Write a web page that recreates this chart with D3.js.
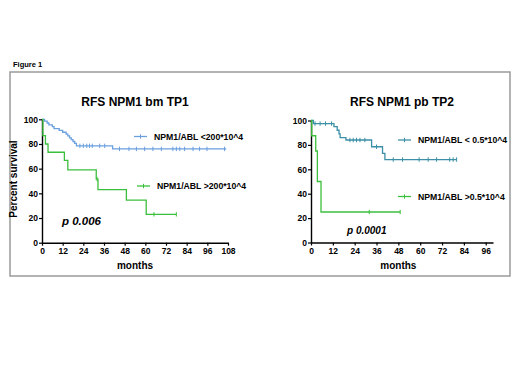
<!DOCTYPE html>
<html>
<head>
<meta charset="utf-8">
<script src="https://cdn.jsdelivr.net/npm/d3@7"></script>
<style>
  body { margin: 0; background: #fff; }
  text { font-family: "Liberation Sans", Arial, sans-serif; }
</style>
</head>
<body>
<div id="chart"></div>
<script>
// step points of each Kaplan-Meier curve (months, percent survival)
const bmLowTimes = [0, 1.5, 3, 4, 6, 7, 10, 12, 14, 15, 16, 17, 18, 19, 20, 41, 107];
const bmLowSurv = [100, 98.5, 97, 95.5, 94, 92.5, 91, 89.5, 88, 86.5, 85, 83.5, 82, 80.5, 78.5, 76, 76];
const bmLowCensor = [22, 24, 26, 27.6, 29.2, 33.5, 36.4, 45, 50.5, 54.8, 59.6, 64.4, 69.3, 76, 78, 80, 82.8, 87.7, 91.5, 95.8, 106];

const bmHighTimes = [0, 0.5, 2, 3.5, 13, 15, 31.5, 32.5, 49, 60.5, 78];
const bmHighSurv = [100, 86.7, 80, 73.3, 66.7, 59, 51.5, 43, 34.5, 23, 23];
const bmHighCensor = [32, 65, 78];

const pbLowTimes = [0, 1.3, 12.6, 14.4, 15.4, 16, 19.2, 33.3, 39.3, 40.6, 80];
const pbLowSurv = [100, 97.5, 95, 92, 89, 86, 84, 78.5, 73, 68, 68];
const pbLowCensor = [2.2, 5, 8, 11.3, 21.4, 23.2, 25, 26.9, 29.6, 36, 45.2, 50.3, 59.4, 64.4, 69, 76.2, 78.1, 80];

const pbHighTimes = [0, 0.4, 2.6, 3.5, 5.5, 49];
const pbHighSurv = [100, 87.5, 75, 50, 25, 25];
const pbHighCensor = [32, 49];

const yTicks = [0, 20, 40, 60, 80, 100];
const bmXTicks = [0, 12, 24, 36, 48, 60, 72, 84, 96, 108];
const pbXTicks = [0, 12, 24, 36, 48, 60, 72, 84, 96];

const blue = '#6a9fe0';
const teal = '#3b8fa6';
const green = '#3cbf3c';

const svg = d3.select('#chart')
    .append('svg')
    .attr('width', 520)
    .attr('height', 390);

// figure label and frame
svg.append('text')
    .attr('x', 13)
    .attr('y', 67)
    .style('font-size', '7.5px')
    .style('font-weight', 'bold')
    .text('Figure 1');

svg.append('rect')
    .attr('x', 10)
    .attr('y', 72)
    .attr('width', 500)
    .attr('height', 204)
    .attr('fill', 'none')
    .attr('stroke', '#9a9a9a')
    .attr('stroke-width', 1.5);

function survAt(times, surv, t) {
    let s = surv[0];
    for (let i = 0; i < times.length; i++) {
        if (times[i] <= t) s = surv[i];
    }
    return s;
}

function DrawPanel(opt) {
    const x = d3.scaleLinear().domain(opt.xDomain).range(opt.xRange);
    const y = d3.scaleLinear().domain([0, 100]).range(opt.yRange);
    const g = svg.append('g');

    // axes
    const xAxis = g.append('g')
        .attr('transform', 'translate(0,' + opt.yRange[0] + ')')
        .call(d3.axisBottom(x).tickValues(opt.xTicks).tickSize(3).tickSizeOuter(0).tickPadding(2));
    const yAxis = g.append('g')
        .attr('transform', 'translate(' + opt.xRange[0] + ',0)')
        .call(d3.axisLeft(y).tickValues(yTicks).tickSize(3).tickSizeOuter(0).tickPadding(1));
    [xAxis, yAxis].forEach(a => {
        a.select('.domain').attr('stroke', '#000').attr('stroke-width', 1.4);
        a.selectAll('.tick line').attr('stroke', '#000').attr('stroke-width', 1.2);
        a.selectAll('.tick text')
            .attr('fill', '#000')
            .style('font-size', '8.5px')
            .style('font-weight', 'bold')
            .style('font-family', '"Liberation Sans", Arial, sans-serif');
    });

    // title
    g.append('text')
        .attr('x', opt.titleX)
        .attr('y', 106)
        .attr('text-anchor', 'middle')
        .style('font-size', '12px')
        .style('font-weight', 'bold')
        .text(opt.title);

    // x axis label
    g.append('text')
        .attr('x', (opt.xRange[0] + x(opt.xTicks[opt.xTicks.length - 1])) / 2)
        .attr('y', 268.5)
        .attr('text-anchor', 'middle')
        .style('font-size', '10px')
        .style('font-weight', 'bold')
        .text('months');

    const line = d3.line()
        .x(d => x(d[0]))
        .y(d => y(d[1]))
        .curve(d3.curveStepAfter);

    opt.curves.forEach(c => {
        const pts = c.times.map((t, i) => [t, c.surv[i]]);
        g.append('path')
            .attr('d', line(pts))
            .attr('fill', 'none')
            .attr('stroke', c.color)
            .attr('stroke-width', 1.3);

        g.selectAll(null)
            .data(c.censor)
            .join('line')
            .attr('x1', d => x(d))
            .attr('x2', d => x(d))
            .attr('y1', d => y(survAt(c.times, c.surv, d)) - 2.2)
            .attr('y2', d => y(survAt(c.times, c.surv, d)) + 2.2)
            .attr('stroke', c.color)
            .attr('stroke-width', 1);

        // legend
        g.append('line')
            .attr('x1', c.legendX)
            .attr('x2', c.legendX + 13)
            .attr('y1', c.legendY)
            .attr('y2', c.legendY)
            .attr('stroke', c.color)
            .attr('stroke-width', 1.3);
        g.append('line')
            .attr('x1', c.legendX + 6.5)
            .attr('x2', c.legendX + 6.5)
            .attr('y1', c.legendY - 2.2)
            .attr('y2', c.legendY + 2.2)
            .attr('stroke', c.color)
            .attr('stroke-width', 1);
        g.append('text')
            .attr('x', c.legendX + 20)
            .attr('y', c.legendY + 3.2)
            .style('font-size', '8.7px')
            .style('font-weight', 'bold')
            .text(c.label);
    });

    // p value
    g.append('text')
        .attr('x', opt.pX)
        .attr('y', opt.pY)
        .style('font-size', opt.pSize)
        .style('font-weight', 'bold')
        .style('font-style', 'italic')
        .text(opt.pText);
}

DrawPanel({
    title: 'RFS NPM1 bm TP1',
    titleX: 135,
    xDomain: [0, 108],
    xRange: [42, 228],
    yRange: [242.7, 119.3],
    xTicks: bmXTicks,
    pText: 'p 0.006',
    pX: 62,
    pY: 225,
    pSize: '11.5px',
    curves: [
        { times: bmLowTimes, surv: bmLowSurv, censor: bmLowCensor, color: blue,
          label: 'NPM1/ABL <200*10^4', legendX: 134, legendY: 136.5 },
        { times: bmHighTimes, surv: bmHighSurv, censor: bmHighCensor, color: green,
          label: 'NPM1/ABL >200*10^4', legendX: 137, legendY: 186 }
    ]
});

DrawPanel({
    title: 'RFS NPM1 pb TP2',
    titleX: 402,
    xDomain: [0, 100],
    xRange: [311, 493],
    yRange: [242.5, 120.5],
    xTicks: pbXTicks,
    pText: 'p 0.0001',
    pX: 347,
    pY: 233.5,
    pSize: '10px',
    curves: [
        { times: pbLowTimes, surv: pbLowSurv, censor: pbLowCensor, color: teal,
          label: 'NPM1/ABL < 0.5*10^4', legendX: 398, legendY: 140 },
        { times: pbHighTimes, surv: pbHighSurv, censor: pbHighCensor, color: green,
          label: 'NPM1/ABL >0.5*10^4', legendX: 398, legendY: 196.5 }
    ]
});

// y axis title
svg.append('text')
    .attr('transform', 'translate(17,179) rotate(-90)')
    .attr('text-anchor', 'middle')
    .style('font-size', '10px')
    .style('font-weight', 'bold')
    .text('Percent survival');
</script>
</body>
</html>
